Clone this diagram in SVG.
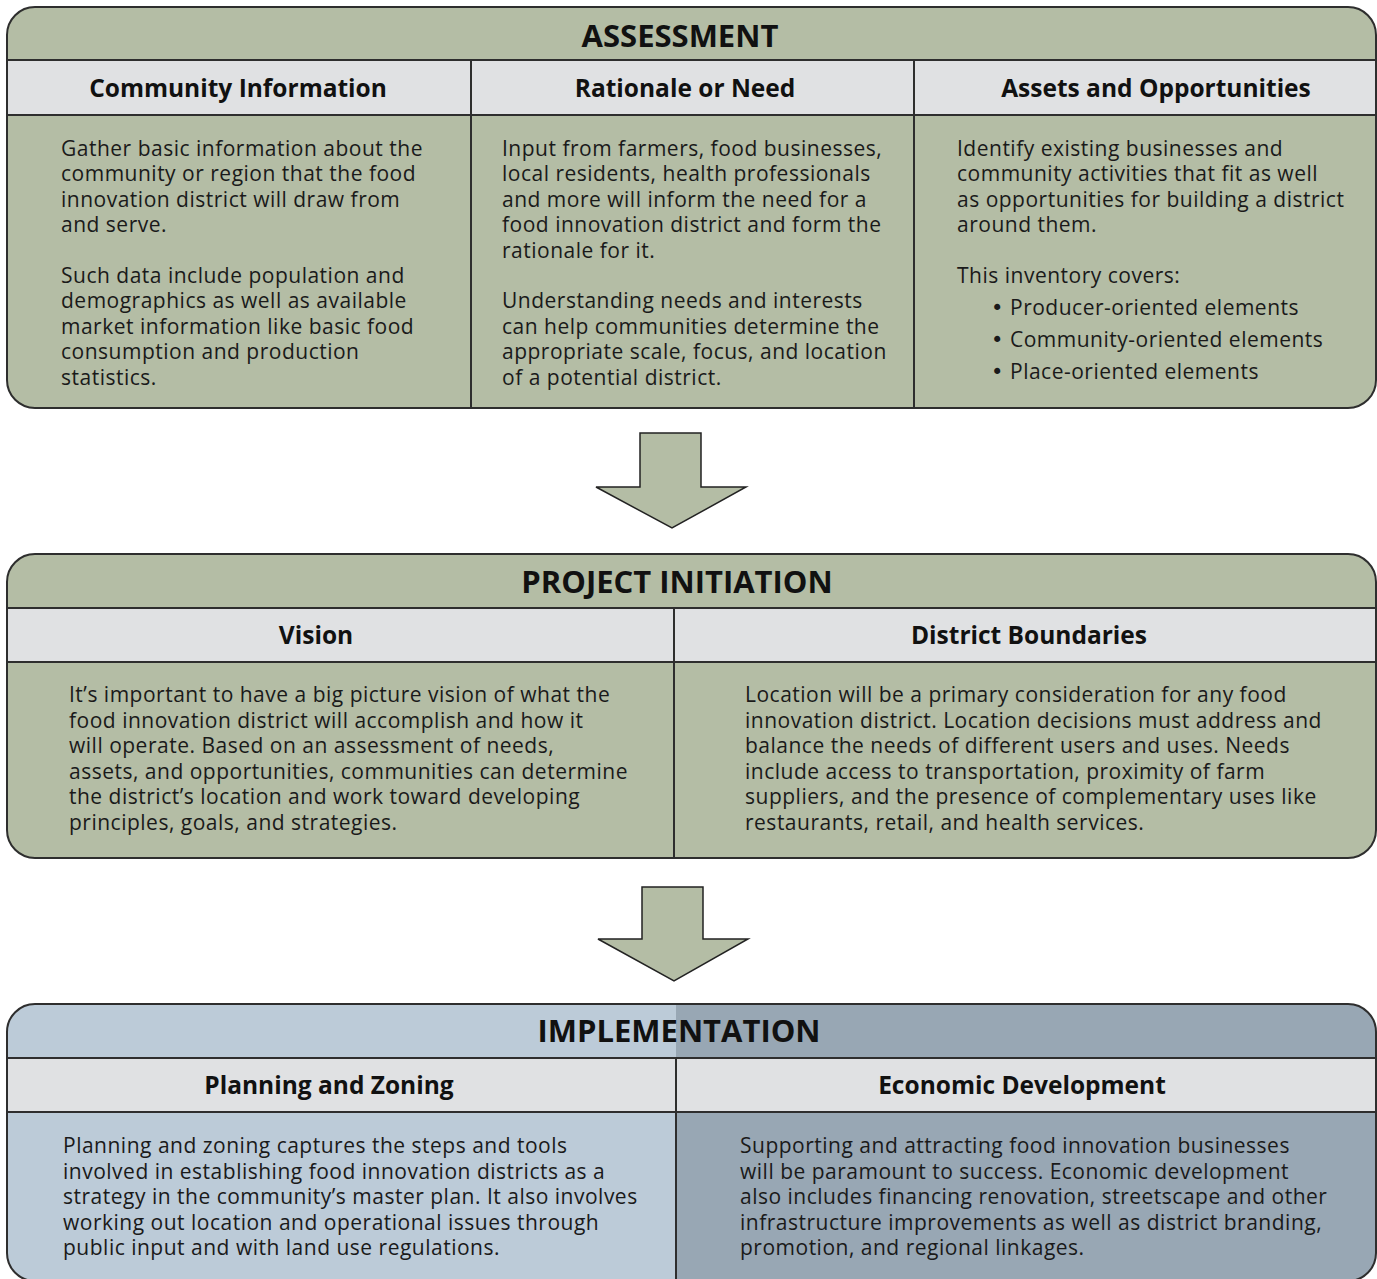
<svg xmlns="http://www.w3.org/2000/svg" width="1377" height="1279" viewBox="0 0 1377 1279">
<style>
.ttl{font-family:"Open Sans","Noto Sans",sans-serif;font-weight:700;font-size:31px;fill:#111;text-anchor:middle}
.sub{font-family:"Open Sans","Noto Sans",sans-serif;font-weight:700;font-size:24.5px;fill:#111;text-anchor:middle}
.bd{font-family:"Open Sans","Noto Sans",sans-serif;font-size:21px;letter-spacing:0.5px;fill:#1a1a1a}
.bul{font-family:"DejaVu Sans",sans-serif;font-size:21px;fill:#1a1a1a}
.ln{stroke:#2e2e2e;stroke-width:2;fill:none}
.out{stroke:#2e2e2e;stroke-width:2;fill:none}
.green{fill:#b4bda5}
.gray{fill:#e0e1e3}
.blue1{fill:#bccbd8}
.blue2{fill:#98a7b4}
.arrow{fill:#b4bda5;stroke:#222;stroke-width:1.5;stroke-linejoin:miter}
</style>
<defs>
<clipPath id="c1"><rect x="7" y="7" width="1369" height="401" rx="28" ry="28"/></clipPath>
<clipPath id="c2"><rect x="7" y="554" width="1369" height="304" rx="28" ry="28"/></clipPath>
<clipPath id="c3"><rect x="7" y="1004" width="1369" height="277" rx="28" ry="28"/></clipPath>
</defs>
<rect width="1377" height="1279" fill="#fff"/>

<g id="assessment">
<g clip-path="url(#c1)">
<rect class="green" x="0" y="0" width="1377" height="420"/>
<rect class="gray" x="0" y="60" width="1377" height="55"/>
</g>
<line class="ln" x1="7" y1="60" x2="1376" y2="60"/>
<line class="ln" x1="7" y1="115" x2="1376" y2="115"/>
<line class="ln" x1="471" y1="60" x2="471" y2="408"/>
<line class="ln" x1="914" y1="60" x2="914" y2="408"/>
<rect class="out" x="7" y="7" width="1369" height="401" rx="28" ry="28"/>
<text class="ttl" x="680" y="46.5">ASSESSMENT</text>
<text class="sub" x="238" y="96.5">Community Information</text>
<text class="sub" x="685" y="96.5">Rationale or Need</text>
<text class="sub" x="1156" y="96.5">Assets and Opportunities</text>
<text class="bd">
<tspan x="61" y="156">Gather basic information about the</tspan>
<tspan x="61" y="181.4">community or region that the food</tspan>
<tspan x="61" y="206.8">innovation district will draw from</tspan>
<tspan x="61" y="232.2">and serve.</tspan>
<tspan x="61" y="283">Such data include population and</tspan>
<tspan x="61" y="308.4">demographics as well as available</tspan>
<tspan x="61" y="333.8">market information like basic food</tspan>
<tspan x="61" y="359.2">consumption and production</tspan>
<tspan x="61" y="384.6">statistics.</tspan>
</text>
<text class="bd">
<tspan x="502" y="156">Input from farmers, food businesses,</tspan>
<tspan x="502" y="181.4">local residents, health professionals</tspan>
<tspan x="502" y="206.8">and more will inform the need for a</tspan>
<tspan x="502" y="232.2">food innovation district and form the</tspan>
<tspan x="502" y="257.6">rationale for it.</tspan>
<tspan x="502" y="308.4">Understanding needs and interests</tspan>
<tspan x="502" y="333.8">can help communities determine the</tspan>
<tspan x="502" y="359.2">appropriate scale, focus, and location</tspan>
<tspan x="502" y="384.6">of a potential district.</tspan>
</text>
<text class="bd">
<tspan x="957" y="156">Identify existing businesses and</tspan>
<tspan x="957" y="181.4">community activities that fit as well</tspan>
<tspan x="957" y="206.8">as opportunities for building a district</tspan>
<tspan x="957" y="232.2">around them.</tspan>
<tspan x="957" y="283">This inventory covers:</tspan>
</text>
<text class="bul">
<tspan x="991" y="315">•</tspan>
<tspan x="991" y="347">•</tspan>
<tspan x="991" y="379">•</tspan>
</text>
<text class="bd">
<tspan x="1010" y="315">Producer-oriented elements</tspan>
<tspan x="1010" y="347">Community-oriented elements</tspan>
<tspan x="1010" y="379">Place-oriented elements</tspan>
</text>
</g>

<g id="project-initiation">
<g clip-path="url(#c2)">
<rect class="green" x="0" y="540" width="1377" height="330"/>
<rect class="gray" x="0" y="608" width="1377" height="54"/>
</g>
<line class="ln" x1="7" y1="608" x2="1376" y2="608"/>
<line class="ln" x1="7" y1="662" x2="1376" y2="662"/>
<line class="ln" x1="674" y1="608" x2="674" y2="858"/>
<rect class="out" x="7" y="554" width="1369" height="304" rx="28" ry="28"/>
<text class="ttl" x="677" y="592.5">PROJECT INITIATION</text>
<text class="sub" x="316" y="643.5">Vision</text>
<text class="sub" x="1029" y="643.5">District Boundaries</text>
<text class="bd">
<tspan x="69" y="702">It’s important to have a big picture vision of what the</tspan>
<tspan x="69" y="727.5">food innovation district will accomplish and how it</tspan>
<tspan x="69" y="753">will operate. Based on an assessment of needs,</tspan>
<tspan x="69" y="778.5">assets, and opportunities, communities can determine</tspan>
<tspan x="69" y="804">the district’s location and work toward developing</tspan>
<tspan x="69" y="829.5">principles, goals, and strategies.</tspan>
</text>
<text class="bd">
<tspan x="745" y="702">Location will be a primary consideration for any food</tspan>
<tspan x="745" y="727.5">innovation district. Location decisions must address and</tspan>
<tspan x="745" y="753">balance the needs of different users and uses. Needs</tspan>
<tspan x="745" y="778.5">include access to transportation, proximity of farm</tspan>
<tspan x="745" y="804">suppliers, and the presence of complementary uses like</tspan>
<tspan x="745" y="829.5">restaurants, retail, and health services.</tspan>
</text>
</g>

<g id="implementation">
<g clip-path="url(#c3)">
<rect class="blue1" x="0" y="990" width="676" height="300"/>
<rect class="blue2" x="676" y="990" width="701" height="300"/>
<rect class="gray" x="0" y="1058" width="1377" height="54"/>
</g>
<line class="ln" x1="7" y1="1058" x2="1376" y2="1058"/>
<line class="ln" x1="7" y1="1112" x2="1376" y2="1112"/>
<line class="ln" x1="676" y1="1058" x2="676" y2="1281"/>
<rect class="out" x="7" y="1004" width="1369" height="277" rx="28" ry="28"/>
<text class="ttl" x="679" y="1042">IMPLEMENTATION</text>
<text class="sub" x="329" y="1093.5">Planning and Zoning</text>
<text class="sub" x="1022" y="1093.5">Economic Development</text>
<text class="bd">
<tspan x="63" y="1153">Planning and zoning captures the steps and tools</tspan>
<tspan x="63" y="1178.5">involved in establishing food innovation districts as a</tspan>
<tspan x="63" y="1204">strategy in the community’s master plan. It also involves</tspan>
<tspan x="63" y="1229.5">working out location and operational issues through</tspan>
<tspan x="63" y="1255">public input and with land use regulations.</tspan>
</text>
<text class="bd">
<tspan x="740" y="1153">Supporting and attracting food innovation businesses</tspan>
<tspan x="740" y="1178.5">will be paramount to success. Economic development</tspan>
<tspan x="740" y="1204">also includes financing renovation, streetscape and other</tspan>
<tspan x="740" y="1229.5">infrastructure improvements as well as district branding,</tspan>
<tspan x="740" y="1255">promotion, and regional linkages.</tspan>
</text>
</g>

<g id="connectors">
<polygon class="arrow" points="640,433 701,433 701,487 746,487 672,528 596,487 640,487"/>
<polygon class="arrow" points="642,887 703,887 703,939 748,939 674,981 598,939 642,939"/>
</g>
</svg>
